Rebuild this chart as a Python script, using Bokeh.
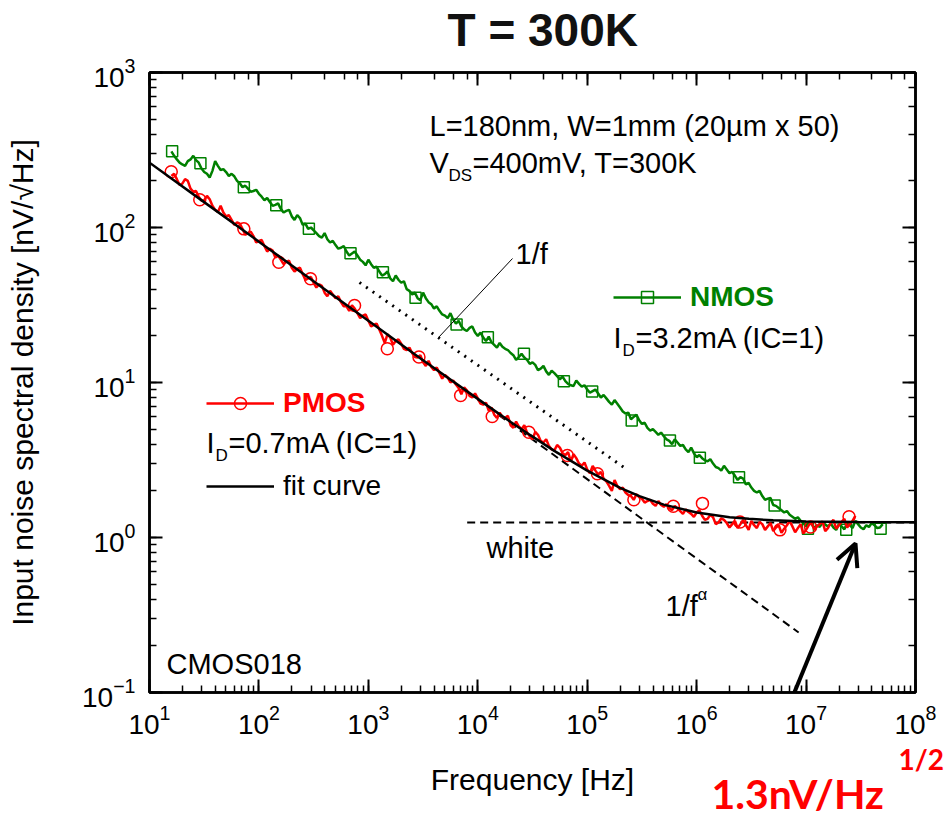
import numpy as np
from bokeh.plotting import figure
from bokeh.models import (LogAxis, Label, Arrow, OpenHead, Legend, LegendItem,
                          CustomJSTickFormatter, Title)
from bokeh.embed import file_html
from bokeh.resources import INLINE

# ---------------- data ----------------
logf_grid = [1.20, 1.25, 1.30, 1.35, 1.40, 1.45, 1.50, 1.55, 1.60, 1.65,
             1.70, 1.75, 1.80, 1.85, 1.90, 1.95, 2.00, 2.05, 2.10, 2.15,
             2.20, 2.25, 2.30, 2.35, 2.40, 2.45, 2.50, 2.55, 2.60, 2.65,
             2.70, 2.75, 2.80, 2.85, 2.90, 2.95, 3.00, 3.05, 3.10, 3.15,
             3.20, 3.25, 3.30, 3.35, 3.40, 3.45, 3.50, 3.55, 3.60, 3.65,
             3.70, 3.75, 3.80, 3.85, 3.90, 3.95, 4.00, 4.05, 4.10, 4.15,
             4.20, 4.25, 4.30, 4.35, 4.40, 4.45, 4.50, 4.55, 4.60, 4.65,
             4.70, 4.75, 4.80, 4.85, 4.90, 4.95, 5.00, 5.05, 5.10, 5.15,
             5.20, 5.25, 5.30, 5.35, 5.40, 5.45, 5.50, 5.55, 5.60, 5.65,
             5.70, 5.75, 5.80, 5.85, 5.90, 5.95, 6.00, 6.05, 6.10, 6.15,
             6.20, 6.25, 6.30, 6.35, 6.40, 6.45, 6.50, 6.55, 6.60, 6.65,
             6.70, 6.75, 6.80, 6.85, 6.90, 6.95, 7.00, 7.05, 7.10, 7.15,
             7.20, 7.25, 7.30, 7.35, 7.40, 7.45, 7.50, 7.55, 7.60, 7.65,
             7.70]

# PMOS values on the grid, and values read half-way between grid points
pmos_y = [215, 205, 192, 200, 170, 158, 150, 152, 130, 138,
          118, 112, 108, 98, 92, 88, 82, 76, 73, 64,
          62, 60, 55, 54, 50, 47, 44, 43, 38, 39,
          35, 33, 31, 31.5, 28, 27, 25, 23.5, 22, 18,
          19.5, 18.5, 17.8, 16.2, 15.5, 14.5, 13.5, 13.8, 12.0, 11.5,
          11.2, 10.0, 9.7, 8.4, 8.9, 8.0, 7.9, 7.2, 6.6, 6.2,
          6.4, 5.9, 5.3, 5.6, 5.0, 4.75, 4.3, 4.6, 4.1, 3.9,
          3.65, 3.8, 3.4, 3.1, 3.25, 2.9, 2.75, 2.9, 2.55, 2.4,
          2.15, 2.35, 2.05, 1.95, 1.85, 1.9, 1.78, 1.72, 1.65, 1.72,
          1.58, 1.55, 1.60, 1.48, 1.52, 1.42, 1.45, 1.38, 1.32, 1.35,
          1.25, 1.30, 1.16, 1.28, 1.22, 1.20, 1.28, 1.15, 1.22, 1.18,
          1.10, 1.20, 1.14, 1.28, 1.08, 1.22, 1.12, 1.25, 1.18, 1.27,
          1.15, 1.30, 1.20, 1.32, 1.22, 1.38]
pmos_mid_y = [222, 188, 205, 178, 172, 149, 160, 138, 126, 125,
              120, 104, 106, 90, 94, 80, 83, 70, 71, 66,
              58, 61, 52, 55, 46, 48, 41, 42, 36, 37,
              36, 31, 29, 30, 26, 27.5, 23, 24, 20, 20.5,
              17.5, 19, 16.5, 16.8, 14.6, 15, 12.8, 12.6, 12.5, 10.6,
              10.8, 10.3, 9.2, 9.3, 8.2, 8.5, 7.3, 7.4, 6.9, 5.9,
              6.0, 6.1, 5.1, 5.2, 5.3, 4.5, 4.8, 4.2, 4.3, 3.7,
              3.95, 3.5, 3.55, 3.45, 3.0, 3.05, 2.6, 2.7, 2.65, 2.3,
              2.0, 2.15, 2.1, 1.88, 1.75, 1.82, 1.68, 1.75, 1.6, 1.62,
              1.64, 1.5, 1.54, 1.42, 1.46, 1.36, 1.5, 1.3, 1.4, 1.22,
              1.33, 1.24, 1.22, 1.15, 1.3, 1.12, 1.2, 1.26, 1.12, 1.24,
              1.16, 1.07, 1.2, 1.18, 1.15, 1.06, 1.2, 1.12, 1.22, 1.1,
              1.24, 1.14, 1.26, 1.16, 1.28]

# NMOS values on the grid, and values read half-way between grid points
nmos_y = [310, 275, 255, 268, 290, 262, 228, 210, 268, 235,
          228, 222, 200, 182, 178, 172, 165, 150, 146, 140,
          132, 128, 118, 120, 104, 98, 96, 88, 92, 80,
          77, 74, 70, 68, 66, 60, 62, 55, 52, 50,
          47, 49, 44, 40, 37, 35, 38, 33, 30, 29,
          27, 28, 24, 23, 21.5, 23, 20, 19.5, 19.8, 17.5,
          18, 16.5, 15.5, 14, 15.3, 14, 13.5, 12, 12.8, 11.2,
          11.5, 10.5, 10.2, 9.6, 10.3, 9.4, 9.0, 8.8, 8.5, 8.3,
          7.5, 7.7, 6.9, 6.3, 5.8, 6.2, 5.4, 5.1, 5.0, 4.6,
          4.5, 4.2, 4.3, 3.9, 3.7, 3.8, 3.3, 3.25, 3.1, 3.0,
          2.8, 2.9, 2.6, 2.5, 2.45, 2.2, 2.1, 1.95, 1.85, 1.78,
          1.62, 1.55, 1.45, 1.40, 1.32, 1.28, 1.18, 1.22, 1.20, 1.25,
          1.18, 1.16, 1.22, 1.13, 1.20, 1.28, 1.16, 1.20, 1.24, 1.15,
          1.22]
nmos_mid_y = [290, 262, 250, 275, 272, 240, 222, 232, 250, 238,
              215, 214, 193, 186, 170, 175, 158, 155, 138, 143,
              125, 130, 112, 115, 106, 100, 92, 86, 84, 82,
              73, 76, 66, 70, 62, 57, 58, 56, 49, 52,
              45, 46, 45, 39, 38, 34, 35, 32, 31, 27.5,
              26, 25.5, 25, 22, 22.5, 21, 21, 18.5, 18.2, 16.8,
              17, 16.2, 15, 14.6, 14.5, 13.2, 13, 12.3, 11.8, 11.9,
              11, 10.9, 9.8, 9.5, 9.8, 9.6, 8.6, 9.0, 8.0, 7.9,
              7.2, 7.3, 6.5, 6.4, 6.0, 5.7, 5.5, 4.9, 4.8, 4.75,
              4.3, 4.0, 4.1, 3.95, 3.55, 3.5, 3.4, 3.15, 3.2, 2.85,
              2.7, 2.75, 2.65, 2.35, 2.4, 2.25, 2.0, 2.0, 1.75, 1.8,
              1.6, 1.5, 1.48, 1.36, 1.35, 1.24, 1.26, 1.15, 1.17, 1.21,
              1.23, 1.12, 1.18, 1.24, 1.15, 1.22, 1.13, 1.17, 1.2, 1.16]

pmos_mark_f = [15.8, 28.8, 72.8, 152, 296, 748, 1490, 2900, 6970, 13550,
               29300, 65800, 1.24e5, 2.67e5, 6.12e5, 1.13e6, 2.49e6, 5.77e6,
               1.1e7, 2.47e7]
pmos_mark_y = [229, 151, 98, 59.7, 46.7, 31.4, 16.5, 14.6, 8.24, 6.04,
               4.78, 3.38, 2.58, 1.75, 1.59, 1.66, 1.26, 1.12, 1.17, 1.36]

nmos_mark_f = [16.1, 29.2, 72.8, 144, 286, 687, 1358, 2700, 6400, 12360,
               26400, 61200, 1.11e5, 2.55e5, 5.7e5, 1.07e6, 2.44e6, 5.16e6,
               1.04e7, 2.33e7, 4.8e7]
nmos_mark_y = [310, 260, 182, 139, 98, 68.2, 51.5, 35.2, 23.7, 19.6,
               15.3, 10.2, 8.76, 5.69, 4.23, 3.27, 2.45, 1.61, 1.14, 1.12, 1.14]

fit_f = [10, 30, 100, 300, 1e3, 3e3, 1e4, 2e4, 3e4, 5e4, 1e5, 2e5, 3e5,
         5e5, 1e6, 2e6, 3e6, 5e6, 1e7, 3e7, 1e8]
fit_y = [262, 149.6, 81.0, 46.2, 25.0, 14.3, 7.84, 5.56, 4.59, 3.62, 2.70,
         2.09, 1.85, 1.63, 1.45, 1.35, 1.32, 1.29, 1.27, 1.257, 1.252]

one_f_f = [830, 2.3e5]          # dotted 1/f guide
one_f_y = [44.2, 2.75]
alpha_f = [1e4, 8.55e6]         # dashed 1/f^alpha guide
alpha_y = [7.73, 0.244]
white_f = [8.0e3, 1e8]          # dashed white level
white_y = [1.25, 1.25]

# ---------------- layout helpers ----------------
W, H = 945, 813
FL, FR, FT, FB = 149, 915, 72, 692
LX0, LX1, LY0, LY1 = 1, 8, -1, 3


def dx(px):
    return 10 ** (LX0 + (px - FL) * (LX1 - LX0) / (FR - FL))


def dy(py):
    return 10 ** (LY1 - (py - FT) * (LY1 - LY0) / (FB - FT))


def interleave(grid, on, mid):
    xs, ys = [], []
    for i, v in enumerate(on):
        xs.append(10 ** grid[i])
        ys.append(v)
        if i < len(mid):
            xs.append(10 ** ((grid[i] + grid[i + 1]) / 2))
            ys.append(mid[i])
    return xs, ys


FONT = "Liberation Sans"
RED = "#ff0000"
GREEN = "#008000"

p = figure(width=W, height=H, x_axis_type="log", y_axis_type="log",
           x_range=(10, 1e8), y_range=(0.1, 1000),
           output_backend="svg", toolbar_location=None,
           min_border_left=FL, min_border_right=W - FR,
           min_border_top=FT, min_border_bottom=H - FB)
p.xgrid.visible = False
p.ygrid.visible = False
p.outline_line_color = "black"
p.outline_line_width = 2.5
p.background_fill_color = "white"
p.border_fill_color = "white"

p.title.text = "T = 300K"
p.title.align = "left"
p.title.offset = 452 - FL - 5
p.title.text_font = FONT
p.title.text_font_size = "46px"
p.title.text_font_style = "bold"
p.title.text_color = "#111111"
p.title.vertical_align = "bottom"
p.title.standoff = -6

for ax in (p.xaxis[0], p.yaxis[0]):
    ax.axis_line_width = 2.5
    ax.major_tick_line_width = 2
    ax.minor_tick_line_width = 1.5
    ax.major_tick_in = 13
    ax.major_tick_out = 0
    ax.minor_tick_in = 7
    ax.minor_tick_out = 0
    ax.major_label_text_font = FONT
    ax.major_label_text_font_size = "28px"
    ax.major_label_text_color = "black"
    ax.axis_label_text_font = FONT
    ax.axis_label_text_font_size = "30px"
    ax.axis_label_text_font_style = "normal"
    ax.axis_label_text_color = "black"

p.yaxis.axis_label = "Input noise spectral density [nV/\u221aHz]"
p.xaxis.major_label_standoff = 12
p.yaxis.major_label_standoff = 14
p.yaxis.axis_label_standoff = 40

blank = CustomJSTickFormatter(code="return ' '")
for loc, sto in (("above", 11), ("right", 0)):
    ax = LogAxis(axis_line_width=2.5, major_tick_line_width=2,
                 minor_tick_line_width=1.5, major_tick_in=13,
                 major_tick_out=0, minor_tick_in=7, minor_tick_out=0,
                 formatter=blank, major_label_text_font_size="6px",
                 major_label_standoff=sto)
    p.add_layout(ax, loc)

# texts below the x axis: a thin spacer, then three top-aligned titles that
# take (almost) no height, so that they share one band
p.add_layout(Title(text=" ", text_font_size="2px", standoff=40), "below")
p.add_layout(Title(text="Frequency [Hz]", align="center",
                   vertical_align="top", standoff=-36, text_font=FONT,
                   text_font_size="30px", text_font_style="normal",
                   text_color="black"), "below")
p.add_layout(Title(text="1/2", align="left", offset=903 - FL - 5,
                   vertical_align="top", standoff=-78, text_font="Lato",
                   text_font_size="28px", text_font_style="bold",
                   text_color=RED), "below")
p.add_layout(Title(text="1.3nV/Hz", align="left", offset=716 - FL - 5,
                   vertical_align="top", standoff=-23, text_font="Lato",
                   text_font_size="41px", text_font_style="bold",
                   text_color=RED), "below")

# guide lines
p.line(white_f, white_y, line_color="black", line_width=2, line_dash="8 5")
p.line(alpha_f, alpha_y, line_color="black", line_width=2, line_dash="8 5")
p.line(one_f_f, one_f_y, line_color="black", line_width=3, line_dash="2 6")

# data
pmos_f, pmos_v = interleave(logf_grid, pmos_y, pmos_mid_y)
nmos_f, nmos_v = interleave(logf_grid, nmos_y, nmos_mid_y)
r_n_line = p.line(nmos_f, nmos_v, line_color=GREEN, line_width=2.5)
r_n_pts = p.scatter(nmos_mark_f, nmos_mark_y, marker="square", size=11,
                    line_color=GREEN, fill_color=None, line_width=1.5)
r_p_line = p.line(pmos_f, pmos_v, line_color=RED, line_width=2.5)
r_p_pts = p.scatter(pmos_mark_f, pmos_mark_y, marker="circle", size=12,
                    line_color=RED, fill_color=None, line_width=1.5)
r_fit = p.line(fit_f, fit_y, line_color="black", line_width=2.5)

# leader line for "1/f"
p.line([dx(438), dx(512)], [dy(337), dy(258)], line_color="black", line_width=1)


def leg(items, loc, color, style):
    lg = Legend(items=items, location=loc, padding=0, margin=0, spacing=0,
                border_line_alpha=0, background_fill_alpha=0,
                glyph_width=68, glyph_height=30, label_height=30,
                label_standoff=9, label_text_font=FONT,
                label_text_font_size="28px", label_text_font_style=style,
                label_text_color=color)
    p.add_layout(lg)


leg([LegendItem(label="PMOS", renderers=[r_p_line, r_p_pts])],
    (206 - FL, FB - 419), RED, "bold")
leg([LegendItem(label="NMOS", renderers=[r_n_line, r_n_pts])],
    (613 - FL, FB - 313), GREEN, "bold")
leg([LegendItem(label="fit curve", renderers=[r_fit])],
    (206 - FL, FB - 502), "black", "normal")


def lab(px, py, text, size="29px", color="black", style="normal",
        font=FONT, align="left"):
    p.add_layout(Label(x=dx(px), y=dy(py), text=text, text_font=font,
                       text_font_size=size, text_color=color,
                       text_font_style=style, text_align=align,
                       text_baseline="middle"))


lab(429, 125, "L=180nm, W=1mm (20\u00b5m x 50)")
lab(429, 162, "V")
lab(448, 175, "DS", size="17px")
lab(472, 162, "=400mV, T=300K")
lab(515, 253, "1/f")
lab(613, 337, "I")
lab(622, 350, "D", size="17px")
lab(635, 337, "=3.2mA (IC=1)")
lab(206, 442, "I")
lab(215, 455, "D", size="17px")
lab(228, 442, "=0.7mA (IC=1)")
lab(486, 547, "white")
lab(665, 605, "1/f")
lab(697, 594, "\u03b1", size="17px")
lab(166, 663, "CMOS018")

p.add_layout(Arrow(end=OpenHead(size=22, line_width=4, line_color="black"),
                   x_start=dx(768), y_start=dy(755), x_end=dx(855),
                   y_end=dy(543), line_width=4, line_color="black"))

open("out.html", "w").write(file_html(p, INLINE))
